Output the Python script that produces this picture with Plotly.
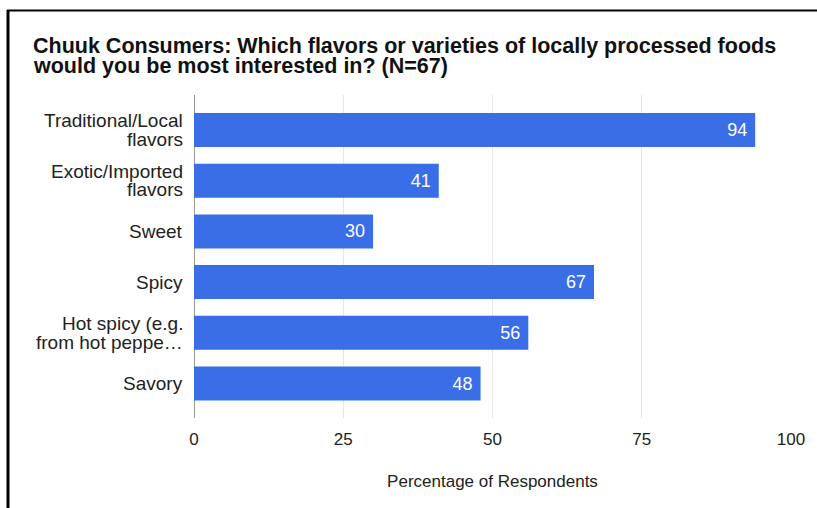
import plotly.graph_objects as go

# Survey responses (percentage of respondents choosing each flavor type)
categories = [
    "Traditional/Local flavors",
    "Exotic/Imported flavors",
    "Sweet",
    "Spicy",
    "Hot spicy (e.g. from hot peppers)",
    "Savory",
]
category_lines = [
    ["Traditional/Local", "flavors"],
    ["Exotic/Imported", "flavors"],
    ["Sweet"],
    ["Spicy"],
    ["Hot spicy (e.g.", "from hot peppe…"],
    ["Savory"],
]
percentages = [94, 41, 30, 67, 56, 48]
x_ticks = [0, 25, 50, 75, 100]
title_lines = [
    "Chuuk Consumers: Which flavors or varieties of locally processed foods",
    "would you be most interested in? (N=67)",
]

W, H = 817, 508
ML, MR, MT, MB = 194, 26, 95, 90
PLOT_W = W - ML - MR
PLOT_H = H - MT - MB

BLUE = "#3a6ee6"
TEXT = "#222222"
FONT = "Liberation Sans, Arial, sans-serif"

fig = go.Figure(
    go.Bar(
        y=categories,
        x=percentages,
        orientation="h",
        marker=dict(color=BLUE, line=dict(width=0)),
        width=0.67,
        texttemplate="%{x}\u00a0",
        textposition="inside",
        insidetextanchor="end",
        textfont=dict(color="white", size=18, family=FONT),
        cliponaxis=False,
        hoverinfo="skip",
    )
)

# Category labels, right-aligned and tightly line-spaced
LINE_GAP = 18.5
for cat, lines in zip(categories, category_lines):
    n = len(lines)
    for i, line in enumerate(lines):
        fig.add_annotation(
            text=line,
            xref="paper", yref="y",
            x=-10 / PLOT_W, y=cat,
            xanchor="right", yanchor="middle",
            yshift=((n - 1) / 2 - i) * LINE_GAP,
            showarrow=False,
            borderpad=0,
            font=dict(family=FONT, size=19, color=TEXT),
        )

# Two-line bold heading
for i, line in enumerate(title_lines):
    fig.add_annotation(
        text=f"<b>{line}</b>",
        xref="paper", yref="paper",
        x=(32 - ML) / PLOT_W,
        y=1 + (MT - (46 + 20 * i)) / PLOT_H,
        xanchor="left", yanchor="middle",
        showarrow=False,
        borderpad=0,
        font=dict(family=FONT, size=21.5, color="#111111"),
    )

# frame lines along the left and top edges of the page
px_to_paper_x = lambda px: (px - ML) / PLOT_W
px_to_paper_y = lambda py: 1 - (py - MT) / PLOT_H
fig.add_shape(type="line", xref="paper", yref="paper",
              x0=px_to_paper_x(8), x1=px_to_paper_x(8),
              y0=px_to_paper_y(10), y1=px_to_paper_y(H + 5),
              line=dict(color="black", width=3))
fig.add_shape(type="line", xref="paper", yref="paper",
              x0=px_to_paper_x(7), x1=px_to_paper_x(W + 5),
              y0=px_to_paper_y(10.5), y1=px_to_paper_y(10.5),
              line=dict(color="black", width=2))

fig.update_layout(
    width=W,
    height=H,
    margin=dict(l=ML, r=MR, t=MT, b=MB, pad=0),
    paper_bgcolor="white",
    plot_bgcolor="white",
    showlegend=False,
    font=dict(family=FONT, color=TEXT),
    xaxis=dict(
        range=[0, 100],
        tickvals=x_ticks,
        ticktext=[str(t) for t in x_ticks],
        showgrid=True,
        gridcolor="#e6e6e6",
        gridwidth=1,
        zeroline=True,
        zerolinecolor="#999999",
        zerolinewidth=1,
        showline=False,
        ticks="",
        ticklabelstandoff=9,
        tickfont=dict(size=17, color=TEXT),
        title=dict(text="Percentage of Respondents", font=dict(size=17, color=TEXT), standoff=27),
        fixedrange=True,
    ),
    yaxis=dict(
        range=[5.68, -0.69],
        showgrid=False,
        zeroline=False,
        showline=False,
        showticklabels=False,
        ticks="",
        fixedrange=True,
    ),
)

fig.write_html("out.html")
